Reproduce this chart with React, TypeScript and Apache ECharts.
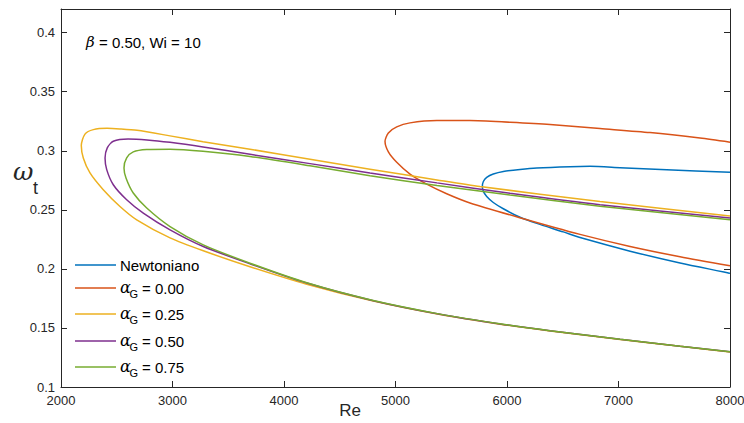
import React, { useEffect, useRef } from "react";
import * as echarts from "echarts";

// ---- data (Re, omega_t) ----
const newtRe = [8000, 7432, 7014, 6745, 6565, 6267, 6117, 5967, 5877, 5818, 5788, 5779, 5788, 5818, 5877, 5967, 6117, 6267, 6505, 6655, 7104, 7552, 8000];
const newtW = [0.2817, 0.284, 0.2857, 0.2868, 0.2865, 0.2854, 0.2842, 0.2825, 0.2803, 0.2774, 0.274, 0.2698, 0.2656, 0.2613, 0.2562, 0.2509, 0.2437, 0.2385, 0.2313, 0.2265, 0.215, 0.205, 0.1963];

const g000Re = [8000, 7731, 7283, 6834, 6386, 6027, 5668, 5370, 5130, 5011, 4936, 4906, 4936, 5011, 5130, 5280, 5459, 5668, 6116, 6655, 7104, 7552, 8000];
const g000W = [0.3072, 0.3107, 0.3154, 0.3188, 0.3222, 0.3241, 0.3256, 0.3256, 0.3236, 0.3202, 0.3151, 0.308, 0.299, 0.2902, 0.2802, 0.2717, 0.2636, 0.2558, 0.2433, 0.2292, 0.219, 0.2103, 0.2027];

const g025Re = [8000, 6834, 5758, 5372, 4771, 4233, 3695, 3274, 2978, 2682, 2529, 2413, 2290, 2215, 2182, 2200, 2260, 2379, 2529, 2679, 2978, 3276, 3695, 4204, 4801, 5399, 5937, 6386, 7014, 7552, 8000];
const g025W = [0.2448, 0.257, 0.2697, 0.2753, 0.2844, 0.2928, 0.3013, 0.3077, 0.3126, 0.3173, 0.3185, 0.319, 0.3179, 0.3141, 0.3044, 0.2939, 0.2812, 0.267, 0.2528, 0.2415, 0.2262, 0.2153, 0.2018, 0.187, 0.1727, 0.1613, 0.1532, 0.1475, 0.1402, 0.1344, 0.1297];

const g050Re = [8000, 6834, 6027, 5372, 4771, 4233, 3695, 3274, 2978, 2771, 2601, 2469, 2415, 2395, 2410, 2469, 2589, 2738, 2978, 3276, 3695, 4204, 4801, 5399, 5937, 6386, 7014, 7552, 8000];
const g050W = [0.243, 0.2543, 0.264, 0.2728, 0.2812, 0.2891, 0.297, 0.3032, 0.3071, 0.3092, 0.31, 0.308, 0.3024, 0.2939, 0.284, 0.2712, 0.2585, 0.2472, 0.233, 0.2189, 0.2043, 0.188, 0.1731, 0.1616, 0.1534, 0.1477, 0.1404, 0.1345, 0.1298];

const g075Re = [8000, 6834, 6027, 5372, 4771, 4233, 3695, 3274, 2978, 2769, 2648, 2589, 2565, 2583, 2648, 2769, 2978, 3276, 3695, 4204, 4801, 5399, 5937, 6386, 7014, 7552, 8000];
const g075W = [0.2415, 0.2531, 0.2625, 0.2706, 0.2789, 0.2873, 0.2952, 0.2996, 0.3013, 0.301, 0.299, 0.2939, 0.2854, 0.2769, 0.2642, 0.2515, 0.2358, 0.2203, 0.2048, 0.1882, 0.1732, 0.1617, 0.1535, 0.1477, 0.1404, 0.1345, 0.1298];

const seriesNames = ["Newtoniano", "αG = 0.00", "αG = 0.25", "αG = 0.50", "αG = 0.75"];
const legendValues = ["", "= 0.00", "= 0.25", "= 0.50", "= 0.75"];
const seriesColors = ["#0072BD", "#D95319", "#EDB120", "#7E2F8E", "#77AC30"];
const seriesRe = [newtRe, g000Re, g025Re, g050Re, g075Re];
const seriesW = [newtW, g000W, g025W, g050W, g075W];

const xMin = 2000, xMax = 8000, xStep = 1000;
const yMin = 0.1, yMax = 0.42, yStep = 0.05;

const SANS = "Liberation Sans, Arial, sans-serif";
const SERIF = "DejaVu Serif, Liberation Serif, serif";
const AXIS_COLOR = "#262626";

export default function App() {
  const ref = useRef<HTMLDivElement>(null);

  useEffect(() => {
    if (!ref.current) return;
    const chart = echarts.init(ref.current, undefined, { renderer: "svg" });

    const axisCommon = {
      type: "value" as const,
      axisLine: { show: true, lineStyle: { color: AXIS_COLOR, width: 1 } },
      axisTick: { show: true, inside: true, length: 6, lineStyle: { color: AXIS_COLOR, width: 1 } },
      splitLine: { show: false },
    };

    const legendRowsY = [265, 288, 314, 341, 367];
    const legendGraphics: any[] = [];
    seriesNames.forEach((name, i) => {
      const y = legendRowsY[i];
      legendGraphics.push({
        type: "line",
        shape: { x1: 75, y1: y, x2: 116, y2: y },
        style: { stroke: seriesColors[i], lineWidth: 1.5 },
      });
      if (i === 0) {
        legendGraphics.push({
          type: "text",
          x: 120,
          y: y,
          style: { text: name, font: `15px ${SANS}`, fill: "#000", align: "left", verticalAlign: "middle" },
        });
      } else {
        legendGraphics.push({
          type: "text",
          x: 120,
          y: y - 1,
          style: { text: "α", font: `italic 16px ${SERIF}`, fill: "#000", align: "left", verticalAlign: "middle" },
        });
        legendGraphics.push({
          type: "text",
          x: 129.5,
          y: y + 6,
          style: { text: "G", font: `11px ${SANS}`, fill: "#000", align: "left", verticalAlign: "middle" },
        });
        legendGraphics.push({
          type: "text",
          x: 142,
          y: y,
          style: { text: legendValues[i], font: `15px ${SANS}`, fill: "#000", align: "left", verticalAlign: "middle" },
        });
      }
    });

    const option: any = {
      animation: false,
      backgroundColor: "#ffffff",
      grid: { left: 61, right: 14, top: 9, bottom: 36, containLabel: false, outerBoundsMode: "none" },
      xAxis: [
        {
          ...axisCommon,
          position: "bottom",
          min: xMin,
          max: xMax,
          interval: xStep,
          axisLabel: {
            show: true,
            color: AXIS_COLOR,
            fontSize: 13,
            fontFamily: SANS,
            margin: 7,
            formatter: (v: number) => String(v),
          },
        },
        {
          ...axisCommon,
          position: "top",
          min: xMin,
          max: xMax,
          interval: xStep,
          axisLabel: { show: false },
        },
      ],
      yAxis: [
        {
          ...axisCommon,
          position: "left",
          min: yMin,
          max: yMax,
          interval: yStep,
          axisLabel: {
            show: true,
            color: AXIS_COLOR,
            fontSize: 13,
            fontFamily: SANS,
            margin: 6,
            formatter: (v: number) => (v > 0.41 ? "" : String(+v.toFixed(2))),
          },
        },
        {
          ...axisCommon,
          position: "right",
          min: yMin,
          max: yMax,
          interval: yStep,
          axisLabel: { show: false },
        },
      ],
      series: seriesNames.map((name, i) => ({
        name,
        type: "line",
        xAxisIndex: 0,
        yAxisIndex: 0,
        data: seriesRe[i].map((re, j) => [re, seriesW[i][j]]),
        showSymbol: false,
        symbol: "none",
        smooth: 0.25,
        lineStyle: { color: seriesColors[i], width: 1.5 },
        itemStyle: { color: seriesColors[i] },
        clip: true,
      })),
      graphic: [
        {
          type: "text",
          x: 86,
          y: 42,
          style: { text: "β", font: `italic 15px ${SERIF}`, fill: "#000", align: "left", verticalAlign: "middle" },
        },
        {
          type: "text",
          x: 99,
          y: 42,
          style: { text: "= 0.50, Wi = 10", font: `15px ${SANS}`, fill: "#000", align: "left", verticalAlign: "middle" },
        },
        {
          type: "text",
          x: 350,
          y: 410,
          style: { text: "Re", font: `17px ${SANS}`, fill: AXIS_COLOR, align: "center", verticalAlign: "middle" },
        },
        {
          type: "text",
          x: 13,
          y: 171,
          style: { text: "ω", font: `italic 25px ${SERIF}`, fill: AXIS_COLOR, align: "left", verticalAlign: "middle" },
        },
        {
          type: "text",
          x: 33,
          y: 188,
          style: { text: "t", font: `18px ${SANS}`, fill: AXIS_COLOR, align: "left", verticalAlign: "middle" },
        },
        ...legendGraphics,
      ],
    };

    chart.setOption(option);
    return () => chart.dispose();
  }, []);

  return <div ref={ref} style={{ position: "fixed", left: 0, top: 0, width: 744, height: 423 }} />;
}
